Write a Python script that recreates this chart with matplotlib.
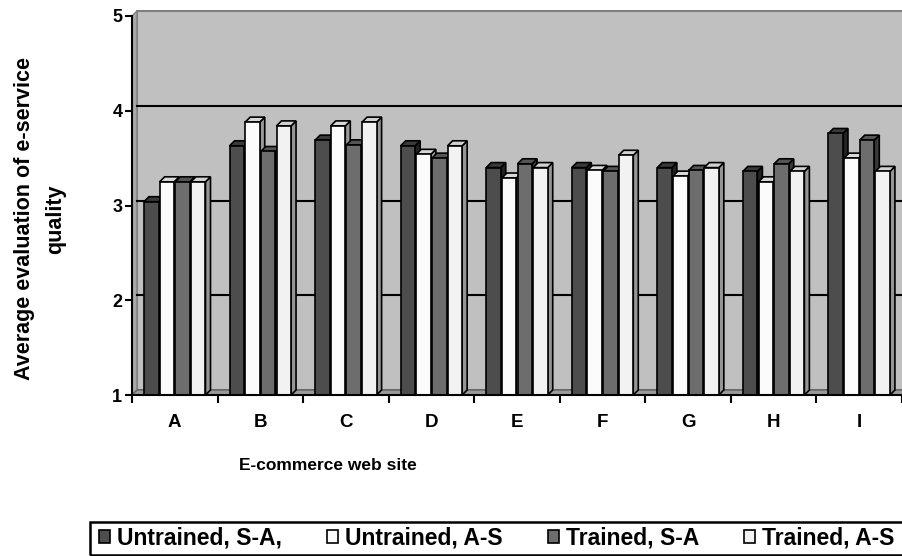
import numpy as np
import matplotlib.pyplot as plt
from matplotlib.patches import Polygon, Patch, Rectangle

plt.rcParams["font.family"] = ["Liberation Sans", "DejaVu Sans"]
plt.rcParams["font.weight"] = "bold"

sites = ["A", "B", "C", "D", "E", "F", "G", "H", "I"]
series_names = ["Untrained, S-A,", "Untrained, A-S", "Trained, S-A", "Trained, A-S"]
untrained_sa = [3.04, 3.63, 3.69, 3.63, 3.40, 3.40, 3.40, 3.36, 3.76]
untrained_as = [3.25, 3.88, 3.84, 3.54, 3.29, 3.37, 3.31, 3.25, 3.50]
trained_sa = [3.25, 3.57, 3.64, 3.50, 3.44, 3.36, 3.37, 3.44, 3.69]
trained_as = [3.25, 3.84, 3.88, 3.63, 3.40, 3.53, 3.40, 3.36, 3.36]
yticks = [1, 2, 3, 4, 5]

front_colors = ["#4d4d4d", "#fbfbfb", "#6d6d6d", "#f2f2f2"]
top_colors = ["#3a3a3a", "#d9d9d9", "#555555", "#d2d2d2"]
side_colors = ["#222222", "#9a9a9a", "#3a3a3a", "#959595"]

W, H = 903, 556
fig = plt.figure(figsize=(W / 100, H / 100), dpi=100)
ax = fig.add_axes([132 / W, 1 - 395 / H, 770 / W, 379 / H])
ax.set_xlim(-0.5, 8.5)
ax.set_ylim(1, 5)
ax.patch.set_visible(False)

# depth of the fake 3-D in data units (about 5 px)
dx = 5 / (770 / 9)
dy = 5 / (379 / 4)
x0, x1 = -0.5, 8.5

# back wall, left wall and floor
ax.add_patch(Polygon([(x0 + dx, 1 + dy), (x1 + dx, 1 + dy), (x1 + dx, 5 + dy), (x0 + dx, 5 + dy)],
                     closed=True, fc="#c0c0c0", ec="#808080", lw=1.5, clip_on=False, zorder=0))
ax.add_patch(Polygon([(x0, 1), (x0 + dx, 1 + dy), (x0 + dx, 5 + dy), (x0, 5)],
                     closed=True, fc="#a8a8a8", ec="#808080", lw=1, clip_on=False, zorder=0.5))
ax.add_patch(Polygon([(x0, 1), (x1, 1), (x1 + dx, 1 + dy), (x0 + dx, 1 + dy)],
                     closed=True, fc="#9a9a9a", ec="#606060", lw=1, clip_on=False, zorder=1))
for g in yticks[1:-1]:
    ax.plot([x0 + dx, x1 + dx], [g + dy, g + dy], color="black", lw=1.5, zorder=1.5, clip_on=False)

data = [untrained_sa, untrained_as, trained_sa, trained_as]
width = 0.17
pitch = 0.183
xpos = np.arange(len(sites))
for i, vals in enumerate(data):
    left = xpos - 0.36 + i * pitch
    for xl, v in zip(left, vals):
        xr = xl + width
        ax.add_patch(Polygon([(xr, 1), (xr + dx, 1 + dy), (xr + dx, v + dy), (xr, v)],
                             closed=True, fc=side_colors[i], ec="black", lw=1.2, zorder=3 + 2 * i))
        ax.add_patch(Polygon([(xl, v), (xr, v), (xr + dx, v + dy), (xl + dx, v + dy)],
                             closed=True, fc=top_colors[i], ec="black", lw=1.2, zorder=3 + 2 * i))
    ax.bar(left, np.array(vals) - 1, width=width, bottom=1, align="edge",
           color=front_colors[i], edgecolor="black", lw=1.2, zorder=4 + 2 * i)

for s in ["top", "right"]:
    ax.spines[s].set_visible(False)
for s in ["left", "bottom"]:
    ax.spines[s].set_linewidth(1.5)
    ax.spines[s].set_zorder(20)

ax.set_yticks(yticks)
ax.set_yticklabels([str(t) for t in yticks])
ax.tick_params(axis="y", length=5, width=1.5, labelsize=13, pad=2)
ax.set_xticks(xpos)
ax.set_xticklabels(sites)
ax.set_xticks(np.arange(-0.5, 9, 1), minor=True)
ax.tick_params(axis="x", which="major", length=0, pad=14, labelsize=13.5)
ax.tick_params(axis="x", which="minor", length=6, width=1.5)

fig.text(328 / W, 1 - 465 / H, "E-commerce web site", ha="center", va="center", fontsize=12.5)
fig.text(40 / W, 1 - 219 / H, "Average evaluation of e-service\nquality", rotation=90,
         ha="center", va="center", multialignment="center", fontsize=15.5, linespacing=1.65)

# legend box runs past the right edge of the picture
fig.patches.append(Rectangle((90 / W, 1 / H), 830 / W, 33 / H, transform=fig.transFigure,
                             fill=False, ec="black", lw=1.8))
handles = [Patch(fc=c, ec="black", lw=1.2) for c in front_colors]
leg = fig.legend(handles, series_names, ncol=4, loc="center left",
                 bbox_to_anchor=(92 / W, 1 - 538 / H),
                 handlelength=0.5, handleheight=0.5, handletextpad=0.3,
                 columnspacing=1.95, borderpad=0.3, borderaxespad=0,
                 frameon=False, prop={"weight": "bold", "size": 16.5})

fig.savefig("out.png", dpi=100)
